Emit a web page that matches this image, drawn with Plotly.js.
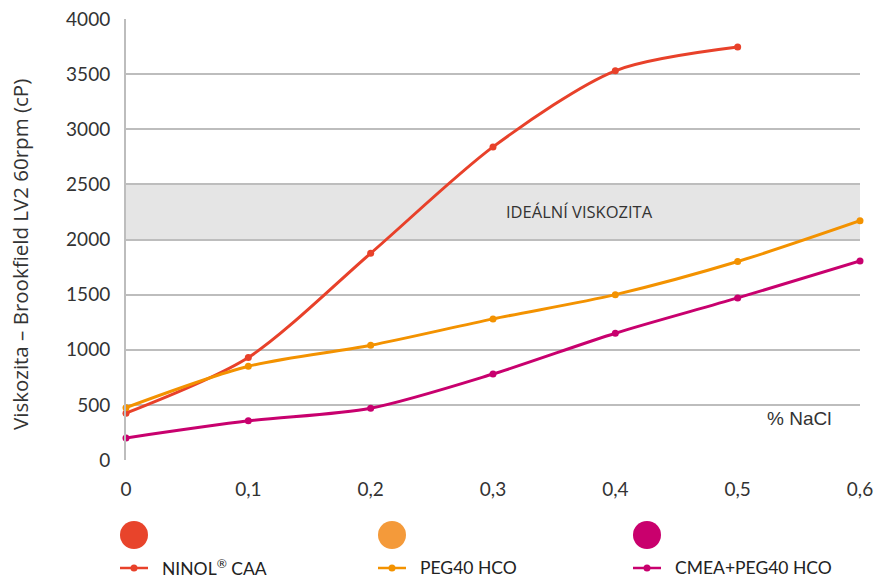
<!DOCTYPE html>
<html><head><meta charset="utf-8">
<script src="https://cdn.plot.ly/plotly-3.0.1.min.js"></script>
<style>html,body{margin:0;padding:0;background:#fff}#chart{width:878px;height:578px}</style>
</head><body><div id="chart"></div>
<script>
const nacl = [0, 0.1, 0.2, 0.3, 0.4, 0.5, 0.6];
const ninol = [425, 930, 1875, 2840, 3530, 3745];
const peg40 = [475, 850, 1040, 1280, 1500, 1800, 2170];
const cmea = [200, 355, 470, 780, 1150, 1470, 1805];
const seriesNames = ['NINOL<sup>®</sup> CAA', 'PEG40 HCO', 'CMEA+PEG40 HCO'];
const lineColors = ['#e8412a', '#f39200', '#c8006e'];
const dotColors = ['#e8442b', '#f49a3a', '#c9006d'];
const xTicks = [0, 0.1, 0.2, 0.3, 0.4, 0.5, 0.6];
const xTickText = ['0', '0,1', '0,2', '0,3', '0,4', '0,5', '0,6'];
const yTicks = [0, 500, 1000, 1500, 2000, 2500, 3000, 3500, 4000];
const idealBand = [2000, 2500];
const yTitle = 'Viskozita – Brookfield LV2 60rpm (cP)';

const allY = [ninol, peg40, cmea];
const traces = allY.map((ys, i) => ({
  x: nacl.slice(0, ys.length), y: ys, name: seriesNames[i],
  type: 'scatter', mode: 'lines+markers',
  line: {color: lineColors[i], width: 3, shape: 'spline', smoothing: 0.8},
  marker: {color: lineColors[i], size: 7},
  cliponaxis: false, showlegend: false
}));

const font = 'Lato, "Noto Sans", sans-serif';
const L = 126, W = 734, B = 460, H = 441;
const px2x = p => (p - L) / W;
const px2y = p => (B - p) / H;
const legendX = [134, 392, 647];
const shapes = [{
  type: 'rect', xref: 'paper', yref: 'y', x0: 0, x1: 1, y0: idealBand[0], y1: idealBand[1],
  fillcolor: '#e5e5e5', line: {width: 0}, layer: 'below'
}];
const annotations = [
  {x: 0.371, y: 2250, xref: 'x', yref: 'y', text: 'IDEÁLNÍ VISKOZITA', showarrow: false,
   font: {size: 16.5, color: '#333', family: '"Open Sans", sans-serif'}},
  {x: 0.55, y: 380, xref: 'x', yref: 'y', text: '% NaCl', showarrow: false,
   font: {size: 19, color: '#333', family: '"Liberation Sans", Arial, sans-serif'}},
  {x: px2x(20), y: px2y(255), xref: 'paper', yref: 'paper', text: yTitle, textangle: -90,
   showarrow: false, xanchor: 'center', yanchor: 'middle',
   font: {size: 20.5, color: '#333', family: '"Open Sans", sans-serif'}}
];
legendX.forEach((px, i) => {
  shapes.push({
    type: 'circle', xref: 'paper', yref: 'paper', xsizemode: 'pixel', ysizemode: 'pixel',
    xanchor: px2x(px), yanchor: px2y(535),
    x0: -14, x1: 14, y0: -14, y1: 14, fillcolor: dotColors[i], line: {width: 0}
  });
  shapes.push({
    type: 'line', xref: 'paper', yref: 'paper',
    x0: px2x(px - 14), x1: px2x(px + 14), y0: px2y(568), y1: px2y(568),
    line: {color: lineColors[i], width: 2.5}
  });
  shapes.push({
    type: 'circle', xref: 'paper', yref: 'paper', xsizemode: 'pixel', ysizemode: 'pixel',
    xanchor: px2x(px), yanchor: px2y(568),
    x0: -3.5, x1: 3.5, y0: -3.5, y1: 3.5, fillcolor: lineColors[i], line: {width: 0}
  });
  annotations.push({
    x: px2x(px + 26), y: px2y(567), xref: 'paper', yref: 'paper', xanchor: 'left', yanchor: 'middle',
    text: seriesNames[i], showarrow: false, font: {size: 17.5, color: '#222', family: font}
  });
});

const layout = {
  width: 878, height: 578,
  margin: {l: L, r: 878 - L - W, t: 19, b: 578 - B},
  paper_bgcolor: '#fff', plot_bgcolor: '#fff',
  separators: ', ',
  font: {family: font, color: '#333', size: 17},
  showlegend: false,
  xaxis: {range: [0, 0.6], tickvals: xTicks, ticktext: xTickText, showgrid: false,
          zeroline: false, showline: false, ticks: '', ticklabelstandoff: 16,
          tickfont: {size: 19, color: '#333'}, fixedrange: true},
  yaxis: {range: [0, 4000], tickvals: yTicks, showgrid: true, gridcolor: '#bdbdbd', gridwidth: 2,
          zeroline: false, showline: true, linecolor: '#bdbdbd', linewidth: 2, ticks: '',
          ticklabelstandoff: 10, tickfont: {size: 19, color: '#333'}, fixedrange: true},
  shapes: shapes,
  annotations: annotations
};
Plotly.newPlot('chart', traces, layout, {displayModeBar: false, staticPlot: true});
</script></body></html>
